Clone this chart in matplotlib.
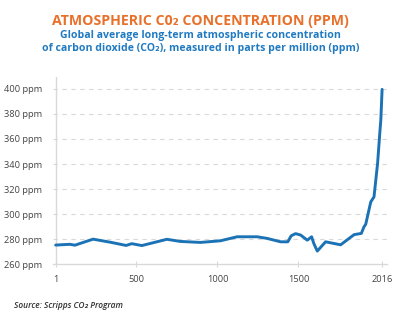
import matplotlib
matplotlib.use("Agg")
import matplotlib.pyplot as plt

plt.rcParams["font.family"] = ["Open Sans", "DejaVu Sans"]

# CO2 concentration (ppm)
YEARS = [1, 89, 120, 232, 337, 436, 471, 533, 688, 770, 894, 1018, 1121, 1245,
         1307, 1389, 1434, 1455, 1482, 1513, 1554, 1581, 1595, 1616, 1667, 1760,
         1843, 1888, 1904, 1915, 1946, 1966, 1988, 2003, 2008, 2016]
PPM = [275.4, 276.0, 275.3, 280.1, 277.7, 275.1, 276.5, 275.0, 280.0, 278.3,
       277.5, 278.8, 282.0, 282.0, 280.7, 278.0, 278.0, 282.8, 284.5, 283.4,
       279.3, 282.0, 276.5, 270.6, 278.0, 275.6, 283.7, 284.7, 289.9, 292.0,
       309.8, 313.8, 340.3, 366.8, 374.8, 399.5]

X_TICKS = [1, 500, 1000, 1500, 2016]
Y_TICKS = [260, 280, 300, 320, 340, 360, 380, 400]

TITLE = "ATMOSPHERIC C0\u2082 CONCENTRATION (PPM)"
SUBTITLE = ("Global average long-term atmospheric concentration\n"
            "of carbon dioxide (CO\u2082), measured in parts per million (ppm)")
SOURCE = "Source: Scripps CO\u2082 Program"

LINE_C = "#1b72b5"
GRID_C = "#d9d9d9"
TEXT_C = "#444444"

fig = plt.figure(figsize=(4.0, 3.24), dpi=100)
ax = fig.add_axes([0.133, 0.184, 0.834, 0.577])

ax.plot(YEARS, PPM, color=LINE_C, lw=2.1, solid_capstyle="round", zorder=3)

ax.set_xlim(-14, 2045)
ax.set_ylim(260, 409)
ax.set_xticks(X_TICKS)
ax.set_xticklabels([str(t) for t in X_TICKS])
ax.set_yticks(Y_TICKS)
ax.set_yticklabels([f"{t} ppm" for t in Y_TICKS])

for t in Y_TICKS[1:]:
    ax.axhline(t, color=GRID_C, lw=0.8, ls=(0, (4, 4)), zorder=1)
ax.axvline(1, color=GRID_C, lw=1.0, zorder=2)

for s in ["top", "right", "left"]:
    ax.spines[s].set_visible(False)
ax.spines["bottom"].set_color(GRID_C)
ax.spines["bottom"].set_linewidth(1.0)

ax.tick_params(axis="y", length=0, pad=8, labelsize=6.7, labelcolor=TEXT_C)
ax.tick_params(axis="x", direction="inout", length=4, color=GRID_C,
               pad=6, labelsize=6.7, labelcolor=TEXT_C)

fig.text(0.502, 0.935, TITLE, ha="center", va="center", fontsize=10.2,
         fontweight="bold", color="#e8702a")
fig.text(0.502, 0.869, SUBTITLE, ha="center", va="center", fontsize=7.6,
         fontweight="bold", color="#1f7ac2", linespacing=1.25)
fig.text(0.035, 0.057, SOURCE, ha="left", va="center", fontsize=6.0,
         style="italic", fontweight="semibold", color="#333333")

fig.savefig("out.png", dpi=100)
